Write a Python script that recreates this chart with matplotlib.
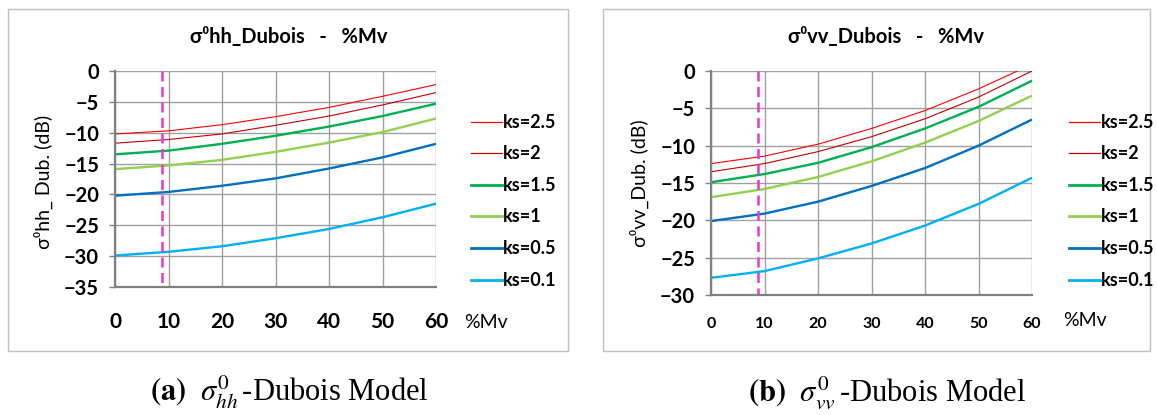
import matplotlib
matplotlib.use("Agg")
import matplotlib.pyplot as plt
from matplotlib.lines import Line2D
from matplotlib.patches import Rectangle

plt.rcParams['font.family'] = ['Lato', 'DejaVu Sans']
plt.rcParams['mathtext.fontset'] = 'stix'

# ---------------- data ----------------
mv = [0, 10, 20, 30, 40, 50, 60]
ks_labels = ['ks=2.5', 'ks=2', 'ks=1.5', 'ks=1', 'ks=0.5', 'ks=0.1']

hh_ks25 = [-10.2, -9.7, -8.7, -7.4, -5.9, -4.1, -2.2]
hh_ks2 = [-11.7, -11.1, -10.2, -8.8, -7.3, -5.5, -3.5]
hh_ks15 = [-13.5, -12.9, -11.8, -10.5, -9.0, -7.3, -5.3]
hh_ks1 = [-15.9, -15.3, -14.4, -13.1, -11.6, -9.9, -7.7]
hh_ks05 = [-20.2, -19.6, -18.6, -17.4, -15.8, -14.0, -11.8]
hh_ks01 = [-29.9, -29.3, -28.4, -27.1, -25.6, -23.7, -21.5]

vv_ks25 = [-12.4, -11.4, -9.8, -7.7, -5.3, -2.4, 0.9]
vv_ks2 = [-13.5, -12.4, -10.8, -8.8, -6.4, -3.5, 0.0]
vv_ks15 = [-14.9, -13.8, -12.3, -10.2, -7.7, -4.8, -1.3]
vv_ks1 = [-16.9, -15.8, -14.2, -12.1, -9.6, -6.7, -3.3]
vv_ks05 = [-20.1, -19.1, -17.5, -15.4, -13.0, -10.0, -6.5]
vv_ks01 = [-27.7, -26.8, -25.1, -23.1, -20.7, -17.8, -14.3]

marker_mv_hh = 8.85
marker_mv_vv = 8.7

hh_series = [hh_ks25, hh_ks2, hh_ks15, hh_ks1, hh_ks05, hh_ks01]
vv_series = [vv_ks25, vv_ks2, vv_ks15, vv_ks1, vv_ks05, vv_ks01]

colors = ['#FF0000', '#C00000', '#00B050', '#92D050', '#0070C0', '#00B0F0']
widths = [0.8, 0.8, 1.7, 1.7, 1.7, 1.7]
leg_widths = [0.9, 0.9, 2.0, 2.0, 2.0, 2.0]

W, H = 1157, 415
fig = plt.figure(figsize=(W / 100, H / 100), dpi=100)


def fx(p):
    return p / W


def fy(p):
    return 1 - p / H


# panel frames
for (x0, y0, x1, y1) in [(8, 9, 568, 351), (603, 9, 1150, 351)]:
    fig.add_artist(Rectangle((fx(x0), fy(y1)), fx(x1 - x0), (y1 - y0) / H,
                             transform=fig.transFigure, fill=False,
                             edgecolor='#BFBFBF', lw=1.0))


def make_axes(rect, series, ymin, marker_x, xtick_size, xpad):
    ax = fig.add_axes(rect)
    for s, c, w in zip(series, colors, widths):
        ax.plot(mv, s, color=c, lw=w, solid_capstyle='butt')
    ax.plot([marker_x, marker_x], [0, ymin], color='#F033CC', lw=1.8,
            dashes=(4, 2.2), clip_on=False)
    ax.set_xlim(0, 60)
    ax.set_ylim(ymin, 0)
    ax.set_xticks(range(0, 61, 10))
    ax.set_yticks(range(ymin, 1, 5))
    ax.grid(True, color='#A0A0A0', lw=1.0)
    ax.set_axisbelow(True)
    for sp in ['top', 'right']:
        ax.spines[sp].set_visible(False)
    for sp in ['left', 'bottom']:
        ax.spines[sp].set_color('#808080')
        ax.spines[sp].set_linewidth(1.6)
    ax.tick_params(axis='y', length=4.5, width=1.0, color='#808080', pad=7,
                   labelsize=14.5)
    ax.tick_params(axis='x', length=0, pad=xpad, labelsize=xtick_size)
    for lab in ax.get_xticklabels() + ax.get_yticklabels():
        lab.set_fontweight('bold')
    return ax


axL = make_axes([fx(115), fy(287), 321 / W, 216 / H], hh_series, -35,
                marker_mv_hh, 15, 18)
axR = make_axes([fx(711), fy(295), 321 / W, 224 / H], vv_series, -30,
                marker_mv_vv, 11.5, 16)

# titles
fig.text(fx(289), fy(37), 'σ⁰hh_Dubois   -   %Mv', ha='center', va='center',
         fontsize=14.5, fontweight='bold')
fig.text(fx(886), fy(37), 'σ⁰vv_Dubois   -   %Mv', ha='center', va='center',
         fontsize=14.5, fontweight='bold')

# y labels
fig.text(fx(43), fy(182), 'σ⁰hh_ Dub. (dB)', rotation=90, ha='center',
         va='center', fontsize=14)
fig.text(fx(639), fy(183), 'σ⁰vv_Dub. (dB)', rotation=90, ha='center',
         va='center', fontsize=14)

# x unit labels
fig.text(fx(486), fy(322), '%Mv', ha='center', va='center', fontsize=14)
fig.text(fx(1085), fy(320), '%Mv', ha='center', va='center', fontsize=14)

# legends
rows = [122, 153, 185, 216, 248, 280]
for (lx0, lx1, tx) in [(471, 502, 503), (1069, 1100, 1101)]:
    for lab, c, w, y in zip(ks_labels, colors, leg_widths, rows):
        fig.add_artist(Line2D([fx(lx0), fx(lx1)], [fy(y), fy(y)],
                              transform=fig.transFigure, color=c, lw=w))
        fig.text(fx(tx), fy(y), lab, ha='left', va='center', fontsize=13,
                 fontweight='bold')

# captions
fig.text(fx(289), fy(401),
         r'$\mathbf{(a)}\ \ \sigma^{0}_{hh}\,$-Dubois Model',
         ha='center', va='baseline', fontsize=22, family='Liberation Serif')
fig.text(fx(887), fy(401),
         r'$\mathbf{(b)}\ \ \sigma^{0}_{vv}\,$-Dubois Model',
         ha='center', va='baseline', fontsize=22, family='Liberation Serif')

fig.savefig('out.png', dpi=100)
